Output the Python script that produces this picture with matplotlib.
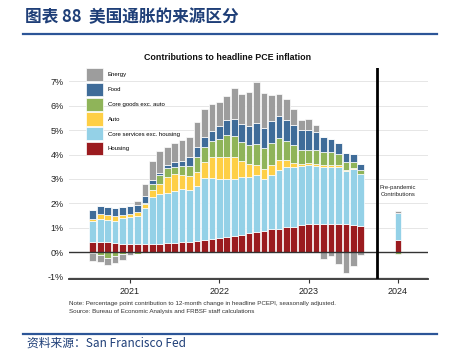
import numpy as np
import pandas as pd
import matplotlib
matplotlib.use('Agg')
import matplotlib.pyplot as plt
from matplotlib.patches import Patch

plt.rcParams['font.family'] = ['Liberation Sans', 'DejaVu Sans']

# monthly contributions, Aug 2020 - Aug 2023 (percentage points)
months = pd.date_range('2020-08-01', periods=37, freq='MS')
housing = [0.43, 0.42, 0.42, 0.37, 0.35, 0.34, 0.34, 0.34, 0.34, 0.34, 0.36, 0.37, 0.40,
           0.43, 0.45, 0.49, 0.53, 0.58, 0.63, 0.67, 0.71, 0.77, 0.81, 0.88, 0.93, 0.97,
           1.02, 1.05, 1.12, 1.14, 1.15, 1.15, 1.16, 1.15, 1.14, 1.13, 1.09]
core_services = [0.85, 0.95, 0.91, 0.92, 1.05, 1.09, 1.16, 1.49, 1.94, 2.03, 2.08, 2.13, 2.18,
                 2.13, 2.25, 2.54, 2.52, 2.44, 2.39, 2.35, 2.36, 2.30, 2.35, 2.13, 2.25, 2.40,
                 2.46, 2.43, 2.41, 2.44, 2.40, 2.36, 2.35, 2.33, 2.17, 2.27, 2.12]
auto = [0.08, 0.18, 0.18, 0.18, 0.14, 0.13, 0.15, 0.14, 0.27, 0.42, 0.66, 0.70, 0.59,
        0.56, 0.59, 0.67, 0.87, 0.90, 0.90, 0.89, 0.68, 0.56, 0.42, 0.39, 0.39, 0.39,
        0.31, 0.18, 0.09, 0.06, 0.07, 0.06, 0.06, 0.09, 0.06, 0.04, 0.01]
core_goods = [-0.05, -0.10, -0.25, -0.15, -0.08, 0.0, -0.07, 0.05, 0.23, 0.37, 0.36, 0.28, 0.35,
              0.42, 0.63, 0.61, 0.63, 0.72, 0.88, 0.87, 0.78, 0.75, 0.84, 0.87, 0.90, 0.93,
              0.75, 0.74, 0.58, 0.56, 0.58, 0.53, 0.53, 0.46, 0.31, 0.25, 0.15]
food = [0.37, 0.34, 0.34, 0.34, 0.33, 0.35, 0.30, 0.28, 0.18, 0.10, 0.10, 0.20, 0.20,
        0.36, 0.38, 0.41, 0.43, 0.52, 0.61, 0.68, 0.74, 0.79, 0.87, 0.83, 0.91, 0.88,
        0.89, 0.82, 0.80, 0.81, 0.72, 0.63, 0.54, 0.45, 0.39, 0.32, 0.23]
energy = [-0.32, -0.32, -0.29, -0.30, -0.24, -0.10, 0.16, 0.50, 0.77, 0.88, 0.76, 0.79, 0.86,
          0.84, 1.03, 1.15, 1.10, 0.99, 0.99, 1.28, 1.22, 1.39, 1.68, 1.42, 1.07, 0.91,
          0.84, 0.64, 0.42, 0.44, 0.30, -0.27, -0.16, -0.49, -0.84, -0.58, -0.12]

# pre-pandemic average contributions
pre_housing, pre_services, pre_auto, pre_goods, pre_food, pre_energy = 0.50, 1.10, 0.0, -0.07, 0.0, 0.09

names = ['Housing', 'Core services exc. housing', 'Auto', 'Core goods exc. auto', 'Food', 'Energy']
colors = ['#9b1b1f', '#94d1e7', '#fecf45', '#8fb459', '#3f6c99', '#9d9d9d']
series = [housing, core_services, auto, core_goods, food, energy]
pre = [pre_housing, pre_services, pre_auto, pre_goods, pre_food, pre_energy]

x = months.year + (months.month - 1) / 12
x_pre = 2024.0

fig = plt.figure(figsize=(4.51, 3.51), dpi=100)
W, H = 451, 351
ax = fig.add_axes([69 / W, 1 - 279 / H, (428 - 69) / W, (279 - 68) / H])

bw = 0.9 / 12
pos_base = np.zeros(len(x))
neg_base = np.zeros(len(x))
pre_pos, pre_neg = 0.0, 0.0
for vals, c, pv in zip(series, colors, pre):
    v = np.array(vals)
    p = np.where(v > 0, v, 0)
    n = np.where(v < 0, v, 0)
    ax.bar(x, p, bottom=pos_base, width=bw, color=c, edgecolor='white', linewidth=0.5, zorder=3)
    ax.bar(x, n, bottom=neg_base, width=bw, color=c, edgecolor='white', linewidth=0.5, zorder=3)
    pos_base += p
    neg_base += n
    if pv > 0:
        ax.bar(x_pre, pv, bottom=pre_pos, width=bw, color=c, edgecolor='white', linewidth=0.5, zorder=3)
        pre_pos += pv
    elif pv < 0:
        ax.bar(x_pre, pv, bottom=pre_neg, width=bw, color=c, edgecolor='white', linewidth=0.5, zorder=3)
        pre_neg += pv

ax.set_xlim(2020.317, 2024.336)
ax.set_ylim(-1.1, 7.55)
ax.set_yticks(range(-1, 8))
ax.set_yticklabels([f'{t}%' for t in range(-1, 8)], fontsize=6.5, color='#222222')
ax.set_xticks([2021, 2022, 2023, 2024])
ax.set_xticklabels(['2021', '2022', '2023', '2024'], fontsize=6.5, color='#222222')
ax.tick_params(axis='y', length=0, pad=4)
ax.tick_params(axis='x', length=3, width=0.8, color='#333333', pad=3)
ax.grid(axis='y', color='#e2e2e2', linewidth=0.6, zorder=0)
for s in ['top', 'right', 'left']:
    ax.spines[s].set_visible(False)
ax.spines['bottom'].set_color('#333333')
ax.spines['bottom'].set_linewidth(1.3)
ax.axhline(0, color='#333333', linewidth=1.0, zorder=4)
ax.axvline(2023.76, ymin=0.01, ymax=1.0, color='black', linewidth=2.0, zorder=5)

ax.text(x_pre, 2.5, 'Pre-pandemic\nContributions', ha='center', va='center',
        fontsize=4.2, color='#222222', linespacing=1.4)

handles = [Patch(facecolor=c, edgecolor='white', linewidth=0.5) for c in colors][::-1]
ax.legend(handles, names[::-1], loc='upper left', bbox_to_anchor=(86 / W, 1 - 68 / H),
          bbox_transform=fig.transFigure, frameon=False, fontsize=4.3, borderpad=0,
          handlelength=2.9, handleheight=3.05, labelspacing=0.25, handletextpad=0.7,
          borderaxespad=0)

fig.text(228 / W, 1 - 57 / H, 'Contributions to headline PCE inflation', ha='center', va='center',
         fontsize=6.4, fontweight='bold', color='#111111')
fig.text(69 / W, 1 - 303 / H, 'Note: Percentage point contribution to 12-month change in headline PCEPI, seasonally adjusted.',
         ha='left', va='center', fontsize=4.5, color='#333333')
fig.text(69 / W, 1 - 311 / H, 'Source: Bureau of Economic Analysis and FRBSF staff calculations',
         ha='left', va='center', fontsize=4.5, color='#333333')

navy = '#1f3f78'
fig.text(25 / W, 1 - 17 / H, '图表 88  美国通胀的来源区分', ha='left', va='center', fontsize=12,
         fontweight='bold', color=navy, family=['Noto Sans CJK SC', 'DejaVu Sans'])
fig.add_artist(plt.Line2D([23 / W, 437 / W], [1 - 33.5 / H, 1 - 33.5 / H], color='#2c5597', linewidth=1.6))
fig.add_artist(plt.Line2D([23 / W, 437 / W], [1 - 333.5 / H, 1 - 333.5 / H], color='#2c5597', linewidth=1.6))
fig.text(27 / W, 1 - 346.5 / H, '资料来源：San Francisco Fed', ha='left', va='baseline', fontsize=8.5,
         style='italic', color=navy, family=['Noto Sans CJK SC', 'DejaVu Sans'])

fig.savefig('out.png', dpi=100)
